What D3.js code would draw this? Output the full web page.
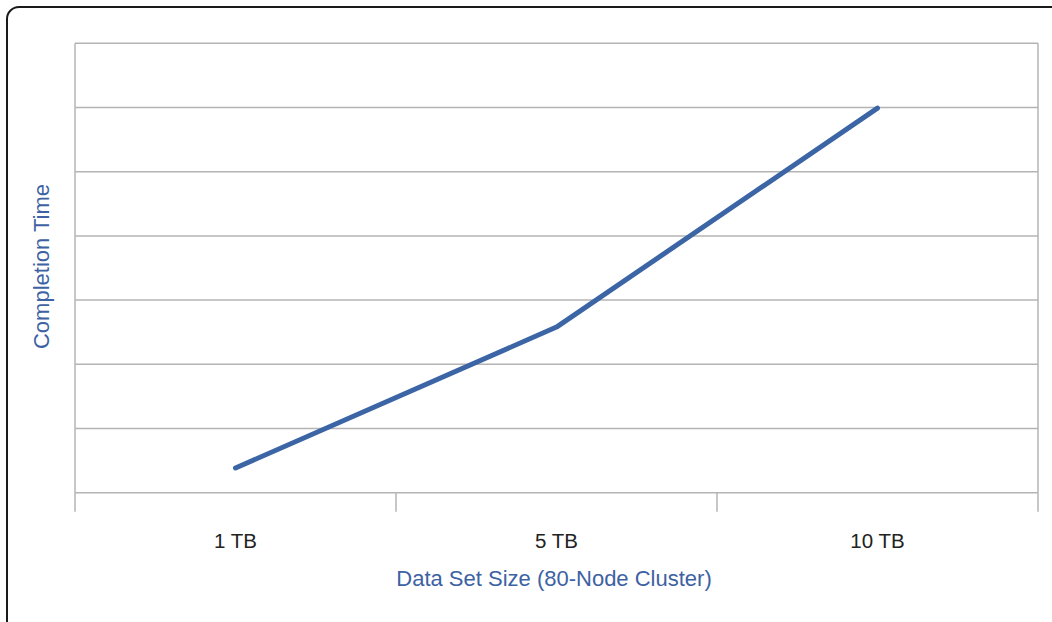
<!DOCTYPE html>
<html>
<head>
<meta charset="utf-8">
<script src="https://cdn.jsdelivr.net/npm/d3@7"></script>
<style>
  html, body { margin: 0; padding: 0; background: #fff; }
  svg { display: block; font-family: "Liberation Sans", Arial, Helvetica, sans-serif; }
</style>
</head>
<body>
<svg id="chart" width="1052" height="622"></svg>
<script>
const categories = ["1 TB", "5 TB", "10 TB"];
const completionTime = [0.385, 2.58, 5.99];
const yTicks = [0, 1, 2, 3, 4, 5, 6, 7];
const xTitle = "Data Set Size (80-Node Cluster)";
const yTitle = "Completion Time";

const svg = d3.select("#chart");
const W = 1052, H = 622;
const margin = { left: 75, right: 14, top: 43.3, bottom: 129.3 };
const x = d3.scaleBand().domain(categories).range([margin.left, W - margin.right]).padding(0);
const y = d3.scaleLinear().domain([0, 7]).range([H - margin.bottom, margin.top]);

// outer frame (only top-left visible)
svg.append("rect")
  .attr("x", 7).attr("y", 7).attr("width", 1200).attr("height", 800)
  .attr("rx", 12).attr("ry", 12)
  .attr("fill", "none").attr("stroke", "#1a1a1a").attr("stroke-width", 2);

// gridlines
svg.append("g").selectAll("line").data(yTicks).join("line")
  .attr("x1", margin.left).attr("x2", W - margin.right)
  .attr("y1", d => y(d)).attr("y2", d => y(d))
  .attr("stroke", "#b4b4b4").attr("stroke-width", 1.5);

// left/right frame of plot
[margin.left, W - margin.right].forEach(xx => {
  svg.append("line").attr("x1", xx).attr("x2", xx)
    .attr("y1", y(7)).attr("y2", y(0))
    .attr("stroke", "#b4b4b4").attr("stroke-width", 1.5);
});

// x-axis tick marks at band boundaries
const bounds = categories.map(c => x(c)).concat([x(categories[categories.length - 1]) + x.bandwidth()]);
svg.append("g").selectAll("line").data(bounds).join("line")
  .attr("x1", d => d).attr("x2", d => d)
  .attr("y1", y(0)).attr("y2", y(0) + 19)
  .attr("stroke", "#b4b4b4").attr("stroke-width", 1.5);

// tick labels
svg.append("g").selectAll("text").data(categories).join("text")
  .attr("x", d => x(d) + x.bandwidth() / 2)
  .attr("y", 548)
  .attr("text-anchor", "middle")
  .attr("font-size", 20.5)
  .attr("fill", "#222")
  .text(d => d);

// line
const line = d3.line()
  .x((d, i) => x(categories[i]) + x.bandwidth() / 2)
  .y(d => y(d));
svg.append("path")
  .datum(completionTime)
  .attr("d", line)
  .attr("fill", "none")
  .attr("stroke", "#3b65a5")
  .attr("stroke-width", 5)
  .attr("stroke-linecap", "round")
  .attr("stroke-linejoin", "round");

// axis titles
svg.append("text")
  .attr("x", 554)
  .attr("y", 586)
  .attr("text-anchor", "middle")
  .attr("font-size", 22)
  .attr("fill", "#3d62a3")
  .text(xTitle);

svg.append("text")
  .attr("transform", `translate(49, 266.5) rotate(-90)`)
  .attr("text-anchor", "middle")
  .attr("font-size", 22)
  .attr("fill", "#3d62a3")
  .text(yTitle);
</script>
</body>
</html>
